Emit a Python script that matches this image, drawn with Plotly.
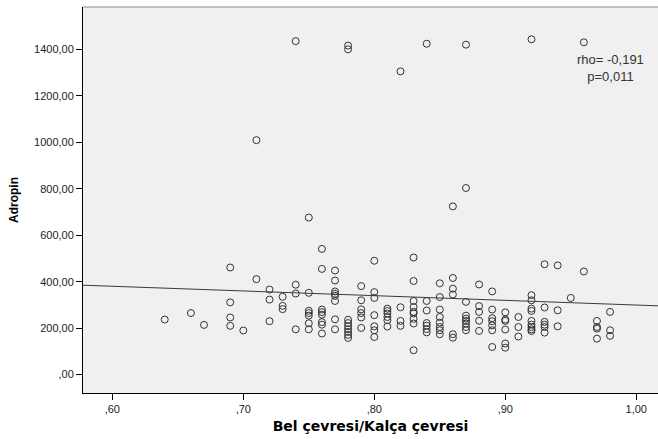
import numpy as np
import plotly.graph_objects as go

# Waist/hip ratio groups and the adropin values measured in each group
whr_groups = [0.64, 0.66, 0.67, 0.69, 0.70, 0.71, 0.72, 0.73, 0.74, 0.75, 0.76,
              0.77, 0.78, 0.79, 0.80, 0.81, 0.82, 0.83, 0.84, 0.85, 0.86, 0.87,
              0.88, 0.89, 0.90, 0.91, 0.92, 0.93, 0.94, 0.95, 0.96, 0.97, 0.98]
adropin_groups = [
    [237],
    [265],
    [214],
    [461, 311, 246, 210],
    [190],
    [1009, 411],
    [366, 323, 230],
    [335, 296, 282],
    [1435, 387, 349, 195],
    [676, 352, 275, 265, 254, 221, 195],
    [541, 455, 280, 269, 258, 226, 215, 177],
    [448, 405, 358, 348, 339, 317, 238, 195],
    [1416, 1400, 236, 222, 208, 195, 184, 171, 158],
    [381, 320, 281, 265, 246, 201],
    [490, 355, 330, 256, 208, 191, 162],
    [284, 274, 263, 248, 234, 207],
    [1305, 290, 231, 210],
    [504, 403, 317, 291, 270, 263, 240, 220, 105],
    [1424, 317, 276, 222, 211, 196, 182],
    [393, 334, 280, 248, 224, 205, 191, 174],
    [724, 416, 370, 345, 174, 159],
    [1420, 803, 313, 254, 241, 231, 220, 205, 191],
    [388, 295, 270, 232, 188],
    [358, 280, 243, 230, 212, 191, 119],
    [268, 237, 231, 194, 134, 116],
    [248, 205, 164],
    [1443, 342, 320, 284, 274, 231, 215, 205, 195, 188],
    [475, 289, 227, 215, 205, 181],
    [470, 277, 208],
    [330],
    [1430, 444],
    [231, 205, 198, 155],
    [270, 191, 167],
]

x_range = [0.5776, 1.0166]
y_range = [-79, 1582]

x_tickvals = [0.60, 0.70, 0.80, 0.90, 1.00]
x_ticktext = [",60", ",70", ",80", ",90", "1,00"]
y_tickvals = [0, 200, 400, 600, 800, 1000, 1200, 1400]
y_ticktext = [",00", "200,00", "400,00", "600,00", "800,00", "1000,00", "1200,00", "1400,00"]

stats_text = "rho= -0,191<br>p=0,011"

whr = [x for x, ys in zip(whr_groups, adropin_groups) for _ in ys]
adropin = [y for ys in adropin_groups for y in ys]

# Least-squares fit line across the full axis range
slope, intercept = np.polyfit(whr, adropin, 1)
fit_x = np.array(x_range)
fit_y = intercept + slope * fit_x

fig = go.Figure()
fig.add_trace(go.Scatter(
    x=whr, y=adropin, mode="markers",
    marker=dict(symbol="circle-open", size=7, color="#333333", line=dict(width=1)),
    showlegend=False, hoverinfo="x+y",
))
fig.add_trace(go.Scatter(
    x=fit_x, y=fit_y, mode="lines",
    line=dict(color="#3a3a3a", width=1),
    showlegend=False, hoverinfo="skip",
))

fig.add_annotation(
    x=0.98, y=1320, xref="x", yref="y", text=stats_text, showarrow=False,
    align="center", font=dict(family="Liberation Sans, Arial", size=13, color="#333333"),
)

# top frame line
fig.add_shape(type="line", xref="paper", yref="paper", x0=0, x1=1, y0=1, y1=1,
              line=dict(color="#8a8a8a", width=1))

axis_font = dict(family="Liberation Sans, Arial", size=11, color="#222222")
fig.update_xaxes(
    range=x_range, tickvals=x_tickvals, ticktext=x_ticktext,
    ticks="outside", ticklen=6, tickcolor="#000000", tickwidth=1,
    showline=True, linecolor="#000000", linewidth=1,
    showgrid=False, zeroline=False, tickfont=axis_font,
    title=dict(text="<b>Bel çevresi/Kalça çevresi</b>", standoff=6,
               font=dict(family="DejaVu Sans", size=14, color="#000000")),
)
fig.update_yaxes(
    range=y_range, tickvals=y_tickvals, ticktext=y_ticktext,
    ticks="outside", ticklen=6, tickcolor="#000000", tickwidth=1,
    showline=True, linecolor="#000000", linewidth=1,
    showgrid=False, zeroline=False, tickfont=axis_font,
    title=dict(text="<b>Adropin</b>", standoff=12,
               font=dict(family="Liberation Sans, Arial", size=12, color="#000000")),
)

fig.update_layout(
    width=658, height=439,
    margin=dict(l=83, r=0, t=7, b=46),
    plot_bgcolor="#f0f0f0", paper_bgcolor="#ffffff",
    font=dict(family="Liberation Sans, Arial"),
)

fig.write_html("out.html")
